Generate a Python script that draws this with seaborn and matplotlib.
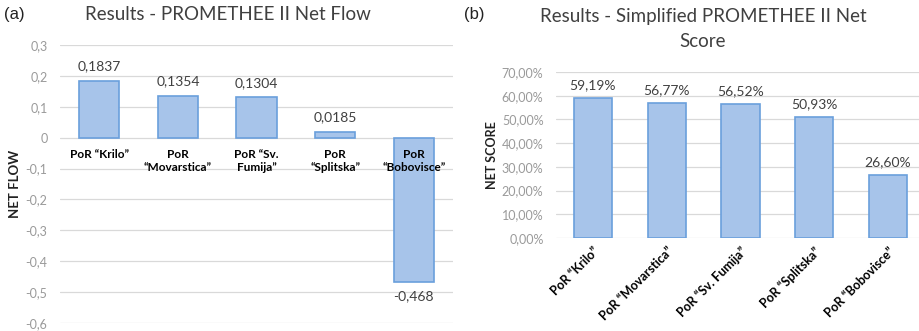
import matplotlib
matplotlib.use("Agg")
import matplotlib.pyplot as plt
import seaborn as sns
import pandas as pd
from matplotlib.transforms import offset_copy

sns.set_theme(style="white")
plt.rcParams["font.family"] = ["Lato", "DejaVu Sans"]

# Net flow results (PROMETHEE II)
flow_sites = ["PoR \u201cKrilo\u201d", "PoR\n\u201cMovarstica\u201d", "PoR \u201cSv.\nFumija\u201d",
              "PoR\n\u201cSplitska\u201d", "PoR\n\u201cBobovisce\u201d"]
flow_values = [0.1837, 0.1354, 0.1304, 0.0185, -0.468]
flow_ticks = [0.3, 0.2, 0.1, 0.0, -0.1, -0.2, -0.3, -0.4, -0.5, -0.6]

# Simplified net score results
score_sites = ["PoR \u201cKrilo\u201d", "PoR \u201cMovarstica\u201d", "PoR \u201cSv. Fumija\u201d",
               "PoR \u201cSplitska\u201d", "PoR \u201cBobovisce\u201d"]
score_values = [0.5919, 0.5677, 0.5652, 0.5093, 0.2660]
score_ticks = [0.0, 0.1, 0.2, 0.3, 0.4, 0.5, 0.6, 0.7]

FILL = "#a7c4ea"
EDGE = "#6a9fdc"
GRID = "#d9d9d9"
TICK = "#9a9a9a"
LABEL = "#404040"

W, H = 919, 331
fig = plt.figure(figsize=(W / 100, H / 100), dpi=100)


def px_axes(x0, x1, ytop, ybot):
    return fig.add_axes([x0 / W, (H - ybot) / H, (x1 - x0) / W, (ybot - ytop) / H])


def style(ax, ticks, fmt):
    ax.set_yticks(ticks)
    ax.set_yticklabels([fmt(t) for t in ticks], color=TICK, fontsize=9)
    ax.yaxis.grid(True, color=GRID, linewidth=0.9)
    ax.set_axisbelow(True)
    for s in ax.spines.values():
        s.set_visible(False)
    ax.tick_params(axis="y", length=0, pad=9)
    ax.set_xlabel("")


# ---- (a) net flow ----
ax1 = px_axes(60, 453, 45, 323)
df1 = pd.DataFrame({"site": flow_sites, "flow": flow_values})
sns.barplot(data=df1, x="site", y="flow", ax=ax1, color=FILL, edgecolor=EDGE,
            linewidth=1.2, width=0.51, saturation=1)
ax1.set_ylim(-0.6, 0.3)
ax1.set_xlim(-0.5, 4.5)
style(ax1, flow_ticks, lambda t: "0" if t == 0 else f"{t:.1f}".replace(".", ","))
ax1.set_xticks([])
ax1.set_ylabel("NET FLOW", fontsize=9.5, fontweight="bold", color="#222222", labelpad=3)

for i, (name, v) in enumerate(zip(flow_sites, flow_values)):
    tr = offset_copy(ax1.transData, fig=fig, x=0, y=-8, units="points")
    ax1.text(i, 0, name, transform=tr, ha="center", va="top", fontsize=8.5,
             fontweight="bold", color="black", linespacing=1.3, zorder=5)
    lab = f"{v:.4f}".rstrip("0").replace(".", ",") if v > 0 else f"{v:.3f}".replace(".", ",")
    off = 6 if v >= 0 else -6
    tr2 = offset_copy(ax1.transData, fig=fig, x=0, y=off, units="points")
    ax1.text(i, v, lab, transform=tr2, ha="center", va="bottom" if v >= 0 else "top",
             fontsize=10, color=LABEL)

fig.text(228 / W, 1 - 15 / H, "Results - PROMETHEE II Net Flow", ha="center", va="center",
         fontsize=13.5, color="#404040")
fig.text(4 / W, 1 - 15 / H, "(a)", ha="left", va="center", fontsize=12,
         family="Liberation Sans", color="#222222")

# ---- (b) simplified net score ----
ax2 = px_axes(556, 925, 72, 238)
df2 = pd.DataFrame({"site": score_sites, "score": score_values})
sns.barplot(data=df2, x="site", y="score", ax=ax2, color=FILL, edgecolor=EDGE,
            linewidth=1.2, width=0.52, saturation=1)
ax2.set_ylim(0, 0.7)
ax2.set_xlim(-0.5, 4.5)
style(ax2, score_ticks, lambda t: f"{t * 100:.2f}%".replace(".", ","))
ax2.set_xticks(range(len(score_sites)))
ax2.set_xticklabels(score_sites, rotation=45, ha="right", rotation_mode="anchor",
                    fontsize=9, fontweight="bold", color="black")
ax2.tick_params(axis="x", length=0, pad=5)
ax2.set_ylabel("NET SCORE", fontsize=9, fontweight="bold", color="#222222", labelpad=3)
for i, v in enumerate(score_values):
    tr = offset_copy(ax2.transData, fig=fig, x=0, y=5, units="points")
    ax2.text(i, v, f"{v * 100:.2f}%".replace(".", ","), transform=tr, ha="center",
             va="bottom", fontsize=10, color=LABEL)

fig.text(703 / W, 1 - 29 / H, "Results - Simplified PROMETHEE II Net\nScore", ha="center",
         va="center", fontsize=13.5, color="#404040", linespacing=1.55)
fig.text(464 / W, 1 - 15 / H, "(b)", ha="left", va="center", fontsize=12,
         family="Liberation Sans", color="#222222")

fig.savefig("out.png", dpi=100)
